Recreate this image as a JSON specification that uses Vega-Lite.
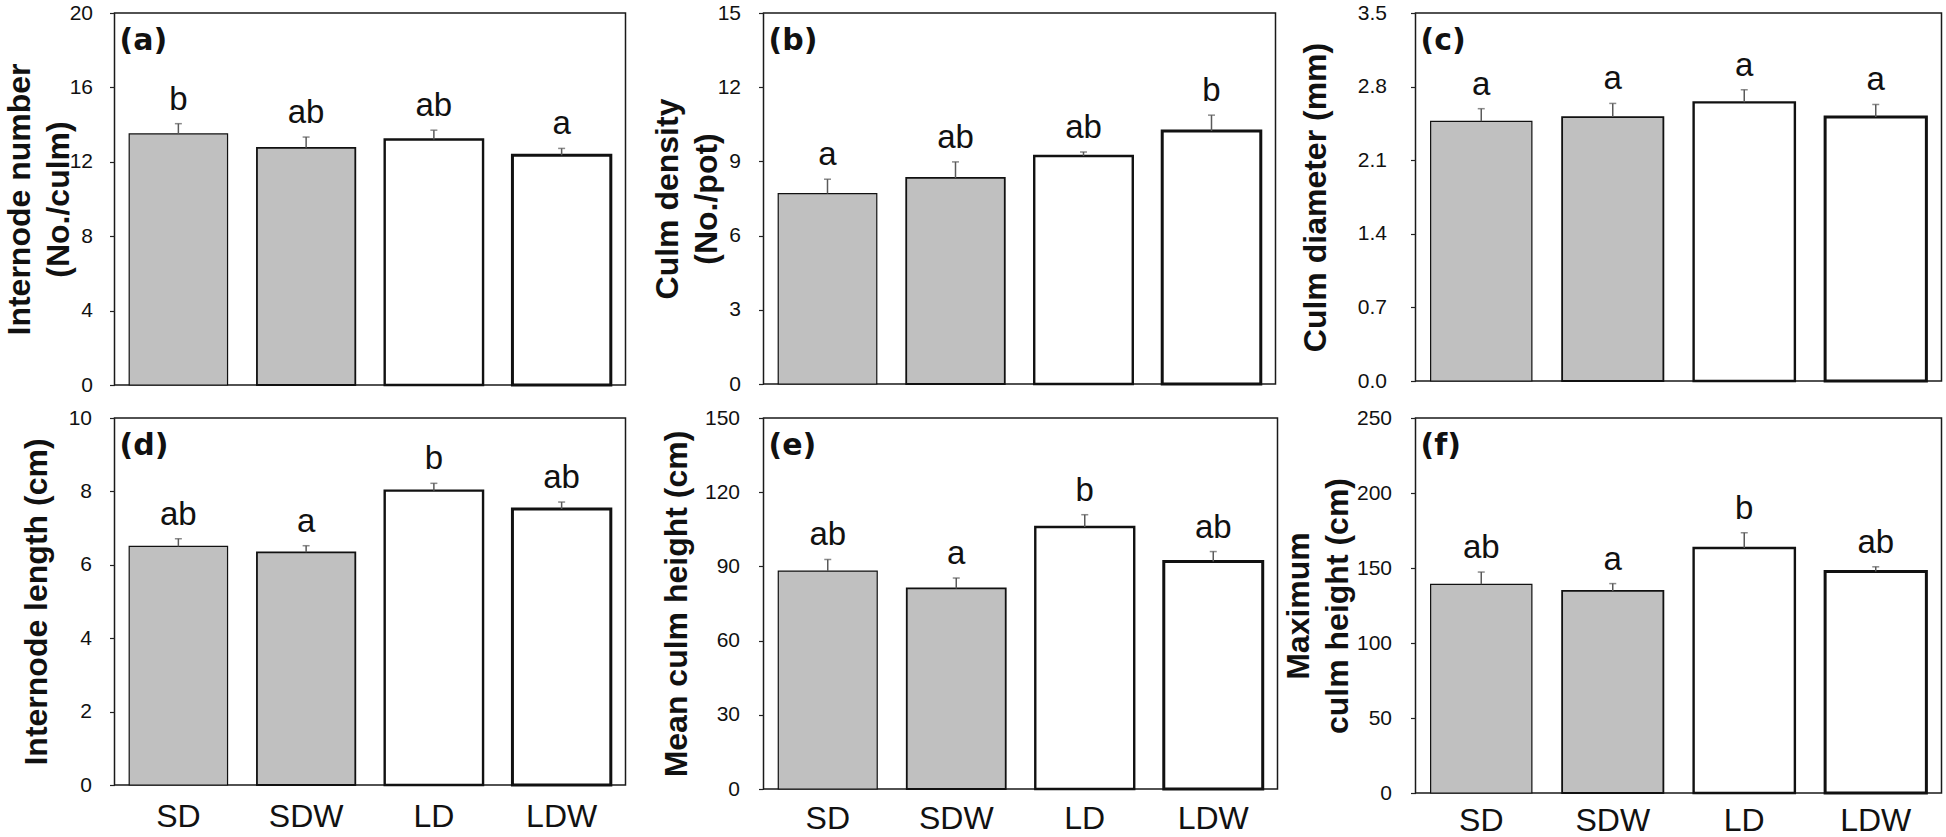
{
  "$schema": "https://vega.github.io/schema/vega-lite/v6.json",
  "autosize": {"type": "none"},
  "padding": {"left": 114.5, "top": 13, "right": 1831.5, "bottom": 824},
  "background": "white",
  "config": {
    "view": {"stroke": "#1a1a1a", "strokeWidth": 1.5},
    "title": {"anchor": "start", "frame": "group", "orient": "top", "offset": -54, "dx": 5, "font": "DejaVu Sans", "fontWeight": "bold", "fontSize": 30, "color": "#111"},
    "axisY": {"grid": false, "domain": false, "tickSize": 5, "tickColor": "#222", "tickWidth": 1.2, "labelFont": "Liberation Sans", "labelFontSize": 21, "labelColor": "#111", "minExtent": 40, "maxExtent": 40, "titleFont": "Liberation Sans", "titleFontSize": 32, "titleFontWeight": "bold", "titleColor": "#111", "titleLineHeight": 39, "titleBaseline": "bottom"},
    "axisX": {"grid": false, "domain": false, "ticks": false, "tickSize": 0, "labelFont": "Liberation Sans", "labelFontSize": 32, "labelColor": "#111", "labelPadding": 15, "labelAngle": 0},
    "text": {"font": "Liberation Sans"}
  },
  "data": {"values": [
    {"panel": "a", "trt": "SD", "mean": 13.5, "upper": 14.05, "letter": "b"},
    {"panel": "a", "trt": "SDW", "mean": 12.75, "upper": 13.33, "letter": "ab"},
    {"panel": "a", "trt": "LD", "mean": 13.2, "upper": 13.7, "letter": "ab"},
    {"panel": "a", "trt": "LDW", "mean": 12.35, "upper": 12.72, "letter": "a"},
    {"panel": "b", "trt": "SD", "mean": 7.7, "upper": 8.28, "letter": "a"},
    {"panel": "b", "trt": "SDW", "mean": 8.33, "upper": 8.98, "letter": "ab"},
    {"panel": "b", "trt": "LD", "mean": 9.22, "upper": 9.38, "letter": "ab"},
    {"panel": "b", "trt": "LDW", "mean": 10.23, "upper": 10.87, "letter": "b"},
    {"panel": "c", "trt": "SD", "mean": 2.47, "upper": 2.59, "letter": "a"},
    {"panel": "c", "trt": "SDW", "mean": 2.51, "upper": 2.64, "letter": "a"},
    {"panel": "c", "trt": "LD", "mean": 2.65, "upper": 2.77, "letter": "a"},
    {"panel": "c", "trt": "LDW", "mean": 2.51, "upper": 2.63, "letter": "a"},
    {"panel": "d", "trt": "SD", "mean": 6.5, "upper": 6.71, "letter": "ab"},
    {"panel": "d", "trt": "SDW", "mean": 6.34, "upper": 6.52, "letter": "a"},
    {"panel": "d", "trt": "LD", "mean": 8.02, "upper": 8.22, "letter": "b"},
    {"panel": "d", "trt": "LDW", "mean": 7.52, "upper": 7.71, "letter": "ab"},
    {"panel": "e", "trt": "SD", "mean": 88.1, "upper": 92.8, "letter": "ab"},
    {"panel": "e", "trt": "SDW", "mean": 81.1, "upper": 85.3, "letter": "a"},
    {"panel": "e", "trt": "LD", "mean": 105.9, "upper": 110.9, "letter": "b"},
    {"panel": "e", "trt": "LDW", "mean": 92.0, "upper": 96.0, "letter": "ab"},
    {"panel": "f", "trt": "SD", "mean": 139.1, "upper": 147.3, "letter": "ab"},
    {"panel": "f", "trt": "SDW", "mean": 134.7, "upper": 139.6, "letter": "a"},
    {"panel": "f", "trt": "LD", "mean": 163.3, "upper": 173.5, "letter": "b"},
    {"panel": "f", "trt": "LDW", "mean": 147.7, "upper": 150.8, "letter": "ab"}
  ]},
  "columns": 3,
  "spacing": {"row": 33, "column": 138},
  "bounds": "flush",
  "align": "each",
  "concat": [
    {
      "width": 511, "height": 372,
      "title": {"text": "(a)"},
      "transform": [{"filter": "datum.panel === 'a'"}],
      "encoding": {"x": {"field": "trt", "type": "nominal", "sort": ["SD", "SDW", "LD", "LDW"], "scale": {"paddingInner": 0.23, "paddingOuter": 0.115}, "axis": null}},
      "layer": [
        {"mark": {"type": "bar", "stroke": "#111"}, "encoding": {
          "y": {"field": "mean", "type": "quantitative", "scale": {"domain": [0, 20], "nice": false}, "title": ["Internode number", "(No./culm)"], "axis": {"values": [0, 4, 8, 12, 16, 20], "labelPadding": 17, "titlePadding": -1}},
          "fill": {"field": "trt", "type": "nominal", "scale": {"domain": ["SD", "SDW", "LD", "LDW"], "range": ["#c0c0c0", "#c0c0c0", "#ffffff", "#ffffff"]}, "legend": null},
          "strokeWidth": {"field": "trt", "type": "ordinal", "scale": {"domain": ["SD", "SDW", "LD", "LDW"], "range": [1.2, 3, 1.2, 3]}, "legend": null}}},
        {"mark": {"type": "rule", "color": "#5a5a5a", "strokeWidth": 1.5}, "encoding": {"y": {"field": "mean", "type": "quantitative", "title": ["Internode number", "(No./culm)"]}, "y2": {"field": "upper"}}},
        {"mark": {"type": "tick", "color": "#5a5a5a", "size": 7, "thickness": 1.5}, "encoding": {"y": {"field": "upper", "type": "quantitative", "title": ["Internode number", "(No./culm)"]}}},
        {"mark": {"type": "text", "fontSize": 33, "baseline": "alphabetic", "dy": -14, "color": "#111"}, "encoding": {"y": {"field": "upper", "type": "quantitative", "title": ["Internode number", "(No./culm)"]}, "text": {"field": "letter"}}}
      ]
    },
    {
      "width": 512, "height": 371,
      "title": {"text": "(b)"},
      "transform": [{"filter": "datum.panel === 'b'"}],
      "encoding": {"x": {"field": "trt", "type": "nominal", "sort": ["SD", "SDW", "LD", "LDW"], "scale": {"paddingInner": 0.23, "paddingOuter": 0.115}, "axis": null}},
      "layer": [
        {"mark": {"type": "bar", "stroke": "#111"}, "encoding": {
          "y": {"field": "mean", "type": "quantitative", "scale": {"domain": [0, 15], "nice": false}, "title": ["Culm density", "(No./pot)"], "axis": {"values": [0, 3, 6, 9, 12, 15], "labelPadding": 18, "titlePadding": 0}},
          "fill": {"field": "trt", "type": "nominal", "scale": {"domain": ["SD", "SDW", "LD", "LDW"], "range": ["#c0c0c0", "#c0c0c0", "#ffffff", "#ffffff"]}, "legend": null},
          "strokeWidth": {"field": "trt", "type": "ordinal", "scale": {"domain": ["SD", "SDW", "LD", "LDW"], "range": [1.2, 3, 1.2, 3]}, "legend": null}}},
        {"mark": {"type": "rule", "color": "#5a5a5a", "strokeWidth": 1.5}, "encoding": {"y": {"field": "mean", "type": "quantitative", "title": ["Culm density", "(No./pot)"]}, "y2": {"field": "upper"}}},
        {"mark": {"type": "tick", "color": "#5a5a5a", "size": 7, "thickness": 1.5}, "encoding": {"y": {"field": "upper", "type": "quantitative", "title": ["Culm density", "(No./pot)"]}}},
        {"mark": {"type": "text", "fontSize": 33, "baseline": "alphabetic", "dy": -14, "color": "#111"}, "encoding": {"y": {"field": "upper", "type": "quantitative", "title": ["Culm density", "(No./pot)"]}, "text": {"field": "letter"}}}
      ]
    },
    {
      "width": 526, "height": 368,
      "title": {"text": "(c)"},
      "transform": [{"filter": "datum.panel === 'c'"}],
      "encoding": {"x": {"field": "trt", "type": "nominal", "sort": ["SD", "SDW", "LD", "LDW"], "scale": {"paddingInner": 0.23, "paddingOuter": 0.115}, "axis": null}},
      "layer": [
        {"mark": {"type": "bar", "stroke": "#111"}, "encoding": {
          "y": {"field": "mean", "type": "quantitative", "scale": {"domain": [0, 3.5], "nice": false}, "title": "Culm diameter (mm)", "axis": {"values": [0, 0.7, 1.4, 2.1, 2.8, 3.5], "format": ".1f", "labelPadding": 24, "titlePadding": 43}},
          "fill": {"field": "trt", "type": "nominal", "scale": {"domain": ["SD", "SDW", "LD", "LDW"], "range": ["#c0c0c0", "#c0c0c0", "#ffffff", "#ffffff"]}, "legend": null},
          "strokeWidth": {"field": "trt", "type": "ordinal", "scale": {"domain": ["SD", "SDW", "LD", "LDW"], "range": [1.2, 3, 1.2, 3]}, "legend": null}}},
        {"mark": {"type": "rule", "color": "#5a5a5a", "strokeWidth": 1.5}, "encoding": {"y": {"field": "mean", "type": "quantitative", "title": "Culm diameter (mm)"}, "y2": {"field": "upper"}}},
        {"mark": {"type": "tick", "color": "#5a5a5a", "size": 7, "thickness": 1.5}, "encoding": {"y": {"field": "upper", "type": "quantitative", "title": "Culm diameter (mm)"}}},
        {"mark": {"type": "text", "fontSize": 33, "baseline": "alphabetic", "dy": -14, "color": "#111"}, "encoding": {"y": {"field": "upper", "type": "quantitative", "title": "Culm diameter (mm)"}, "text": {"field": "letter"}}}
      ]
    },
    {
      "width": 511, "height": 367,
      "title": {"text": "(d)"},
      "transform": [{"filter": "datum.panel === 'd'"}],
      "encoding": {"x": {"field": "trt", "type": "nominal", "sort": ["SD", "SDW", "LD", "LDW"], "scale": {"paddingInner": 0.23, "paddingOuter": 0.115}, "title": null, "axis": {"labelPadding": 16}}},
      "layer": [
        {"mark": {"type": "bar", "stroke": "#111"}, "encoding": {
          "y": {"field": "mean", "type": "quantitative", "scale": {"domain": [0, 10], "nice": false}, "title": "Internode length (cm)", "axis": {"values": [0, 2, 4, 6, 8, 10], "labelPadding": 18, "titlePadding": 21}},
          "fill": {"field": "trt", "type": "nominal", "scale": {"domain": ["SD", "SDW", "LD", "LDW"], "range": ["#c0c0c0", "#c0c0c0", "#ffffff", "#ffffff"]}, "legend": null},
          "strokeWidth": {"field": "trt", "type": "ordinal", "scale": {"domain": ["SD", "SDW", "LD", "LDW"], "range": [1.2, 3, 1.2, 3]}, "legend": null}}},
        {"mark": {"type": "rule", "color": "#5a5a5a", "strokeWidth": 1.5}, "encoding": {"y": {"field": "mean", "type": "quantitative", "title": "Internode length (cm)"}, "y2": {"field": "upper"}}},
        {"mark": {"type": "tick", "color": "#5a5a5a", "size": 7, "thickness": 1.5}, "encoding": {"y": {"field": "upper", "type": "quantitative", "title": "Internode length (cm)"}}},
        {"mark": {"type": "text", "fontSize": 33, "baseline": "alphabetic", "dy": -14, "color": "#111"}, "encoding": {"y": {"field": "upper", "type": "quantitative", "title": "Internode length (cm)"}, "text": {"field": "letter"}}}
      ]
    },
    {
      "width": 514, "height": 371,
      "title": {"text": "(e)"},
      "transform": [{"filter": "datum.panel === 'e'"}],
      "encoding": {"x": {"field": "trt", "type": "nominal", "sort": ["SD", "SDW", "LD", "LDW"], "scale": {"paddingInner": 0.23, "paddingOuter": 0.115}, "title": null, "axis": {"labelPadding": 14}}},
      "layer": [
        {"mark": {"type": "bar", "stroke": "#111"}, "encoding": {
          "y": {"field": "mean", "type": "quantitative", "scale": {"domain": [0, 150], "nice": false}, "title": "Mean culm height (cm)", "axis": {"values": [0, 30, 60, 90, 120, 150], "labelPadding": 19, "titlePadding": 30}},
          "fill": {"field": "trt", "type": "nominal", "scale": {"domain": ["SD", "SDW", "LD", "LDW"], "range": ["#c0c0c0", "#c0c0c0", "#ffffff", "#ffffff"]}, "legend": null},
          "strokeWidth": {"field": "trt", "type": "ordinal", "scale": {"domain": ["SD", "SDW", "LD", "LDW"], "range": [1.2, 3, 1.2, 3]}, "legend": null}}},
        {"mark": {"type": "rule", "color": "#5a5a5a", "strokeWidth": 1.5}, "encoding": {"y": {"field": "mean", "type": "quantitative", "title": "Mean culm height (cm)"}, "y2": {"field": "upper"}}},
        {"mark": {"type": "tick", "color": "#5a5a5a", "size": 7, "thickness": 1.5}, "encoding": {"y": {"field": "upper", "type": "quantitative", "title": "Mean culm height (cm)"}}},
        {"mark": {"type": "text", "fontSize": 33, "baseline": "alphabetic", "dy": -14, "color": "#111"}, "encoding": {"y": {"field": "upper", "type": "quantitative", "title": "Mean culm height (cm)"}, "text": {"field": "letter"}}}
      ]
    },
    {
      "width": 526, "height": 375,
      "title": {"text": "(f)"},
      "transform": [{"filter": "datum.panel === 'f'"}],
      "encoding": {"x": {"field": "trt", "type": "nominal", "sort": ["SD", "SDW", "LD", "LDW"], "scale": {"paddingInner": 0.23, "paddingOuter": 0.115}, "title": null, "axis": {"labelPadding": 12}}},
      "layer": [
        {"mark": {"type": "bar", "stroke": "#111"}, "encoding": {
          "y": {"field": "mean", "type": "quantitative", "scale": {"domain": [0, 250], "nice": false}, "title": ["Maximum", "culm height (cm)"], "axis": {"values": [0, 50, 100, 150, 200, 250], "labelPadding": 19, "titlePadding": 21}},
          "fill": {"field": "trt", "type": "nominal", "scale": {"domain": ["SD", "SDW", "LD", "LDW"], "range": ["#c0c0c0", "#c0c0c0", "#ffffff", "#ffffff"]}, "legend": null},
          "strokeWidth": {"field": "trt", "type": "ordinal", "scale": {"domain": ["SD", "SDW", "LD", "LDW"], "range": [1.2, 3, 1.2, 3]}, "legend": null}}},
        {"mark": {"type": "rule", "color": "#5a5a5a", "strokeWidth": 1.5}, "encoding": {"y": {"field": "mean", "type": "quantitative", "title": ["Maximum", "culm height (cm)"]}, "y2": {"field": "upper"}}},
        {"mark": {"type": "tick", "color": "#5a5a5a", "size": 7, "thickness": 1.5}, "encoding": {"y": {"field": "upper", "type": "quantitative", "title": ["Maximum", "culm height (cm)"]}}},
        {"mark": {"type": "text", "fontSize": 33, "baseline": "alphabetic", "dy": -14, "color": "#111"}, "encoding": {"y": {"field": "upper", "type": "quantitative", "title": ["Maximum", "culm height (cm)"]}, "text": {"field": "letter"}}}
      ]
    }
  ]
}
